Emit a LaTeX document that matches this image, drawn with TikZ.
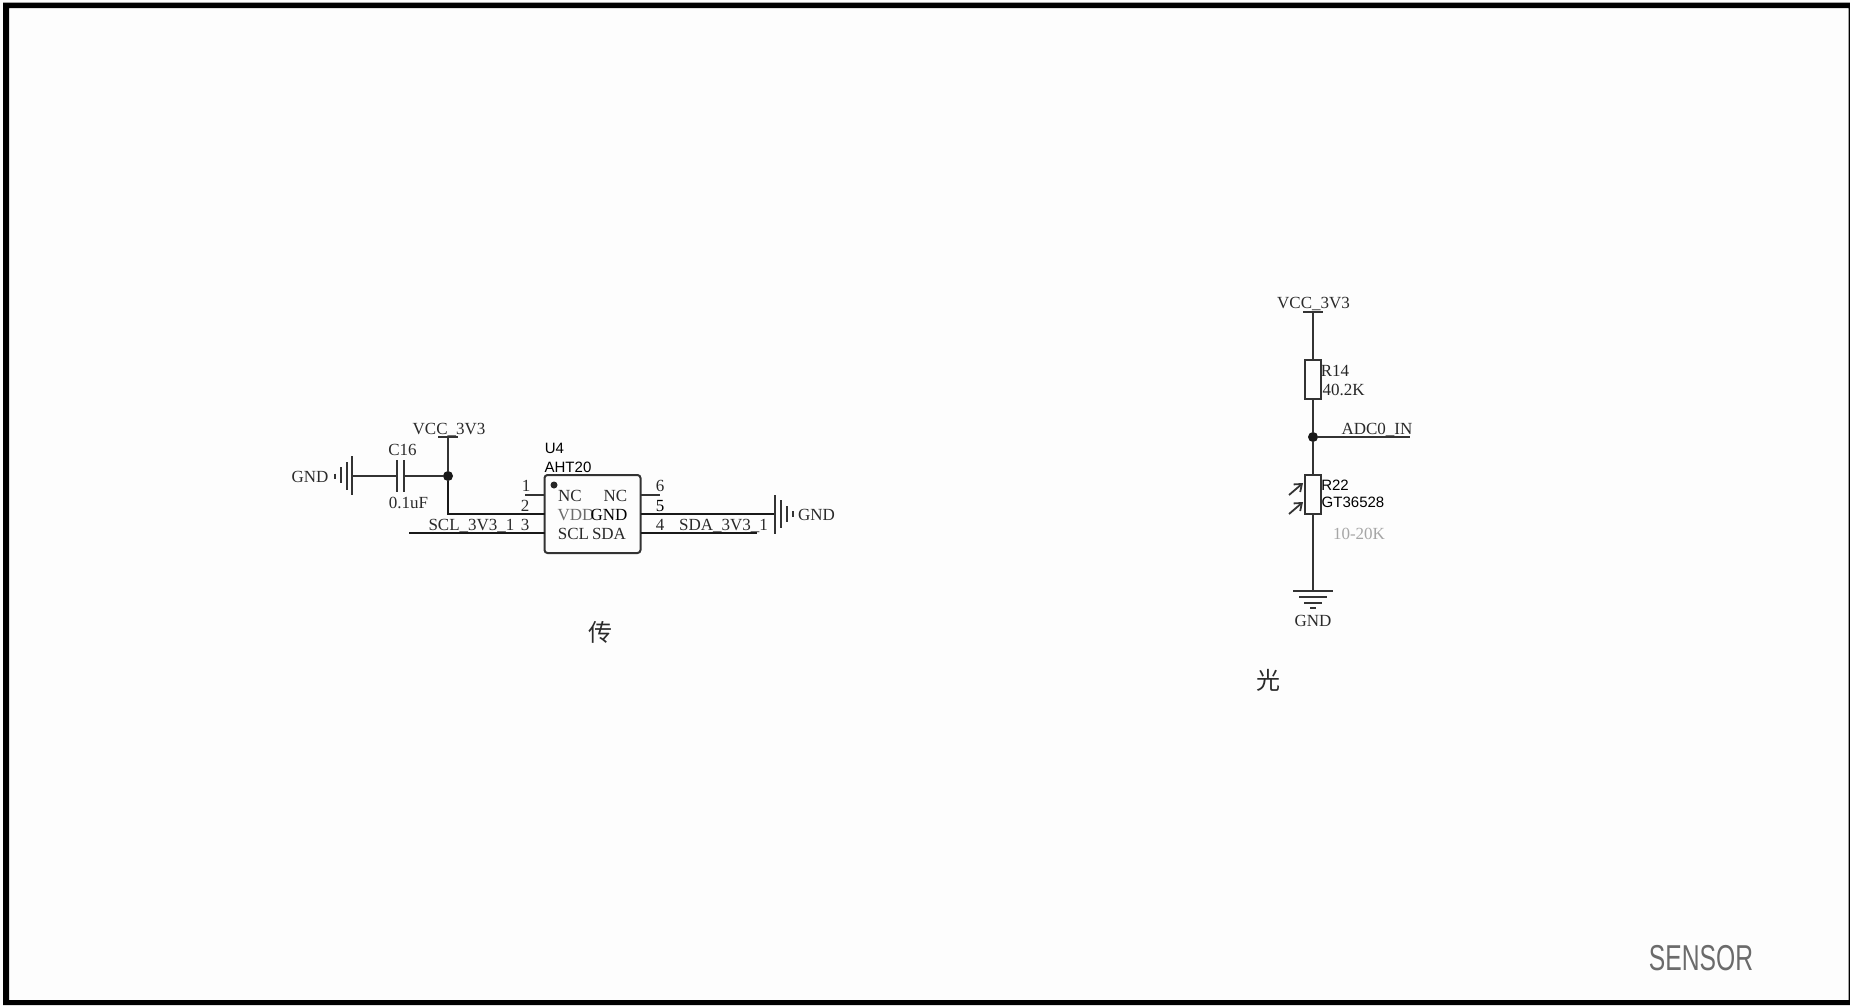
\documentclass[tikz,border=0pt]{standalone}
\usepackage{fontspec}
\setmainfont{Liberation Serif}
\setsansfont{Liberation Sans}
\newfontfamily\cjk{Noto Sans CJK SC}
\usetikzlibrary{arrows.meta}
\definecolor{pagebg}{HTML}{FDFDFD}
\definecolor{wiregray}{HTML}{333333}
\definecolor{txtgray}{HTML}{2A2A2A}
\tikzset{
  x=1pt,y=-1pt,
  lbl/.style={inner sep=0pt,outer sep=0pt,text height=11.5pt,text depth=0pt,text=txtgray,font=\fontsize{17}{20}\selectfont},
  lblsans/.style={lbl,text=black,font=\sffamily\fontsize{15}{18}\selectfont,text height=10.8pt},
  wire/.style={draw=wiregray,line width=2pt},
  heavy/.style={draw=black!90,line width=2pt},
  pinw/.style={draw=wiregray,line width=1.9pt},
  plate/.style={draw=wiregray,line width=2pt},
  junc/.style={circle,fill=black!90,inner sep=0pt,minimum size=10pt},
  resbox/.style={draw=wiregray,line width=2pt,fill=none,inner sep=0pt,minimum width=16pt,minimum height=39pt},
  icbox/.style={draw=wiregray,line width=2pt,rounded corners=3pt,inner sep=0pt,minimum width=96pt,minimum height=78pt},
  photo/.style={draw=wiregray,line width=1.8pt,-{Straight Barb[length=6.5pt,width=10pt]}},
  cjklabel/.style={inner sep=0pt,text=txtgray,font=\cjk\fontsize{24}{26}\selectfont}
}
\begin{document}
\begin{tikzpicture}
\useasboundingbox (0,0) rectangle (1850,1005);
\fill[pagebg] (0,0) rectangle (1850,1005);
\fill[black,even odd rule] (3,2.5) rectangle (1850,1005) (9,8) rectangle (1848.5,1000);

% ----- sensor U4
\node[icbox] (U4) at (592.5,514) {};
\node[lblsans,anchor=center] (U4ref) at (554.5,448) {U4};
\node[lblsans,anchor=center] (U4val) at (568,467) {AHT20};
\fill[black!85] (554,485) circle (3.5);
\node[lbl] (pnNC1) at (570,495.5) {NC};
\node[lbl,text=gray!85!black] (pnVDD) at (576,514.5) {VDD};
\node[lbl] (pnSCL) at (573.5,533.5) {SCL};
\node[lbl] (pnNC6) at (615.5,495.5) {NC};
\node[lbl,text=black] (pnGND) at (609,514.5) {GND};
\node[lbl] (pnSDA) at (609,533.5) {SDA};
\coordinate (p1) at (525,495);
\coordinate (p1i) at (544.5,495);
\coordinate (p2i) at (544.5,514);
\coordinate (p3i) at (544.5,533);
\coordinate (p6) at (660,495);
\coordinate (p6i) at (640.5,495);
\coordinate (p5i) at (640.5,514);
\coordinate (p4i) at (640.5,533);
\coordinate (sclend) at (409,533);
\coordinate (sdaend) at (757,533);
\node[lbl] (n1) at (526,486) {1};
\node[lbl] (n2) at (525,505.5) {2};
\node[lbl] (n3) at (525,525) {3};
\node[lbl] (n6) at (660,486) {6};
\node[lbl,text=black] (n5) at (660,505.5) {5};
\node[lbl] (n4) at (660,524.5) {4};
\node[lbl] (sclt) at (471.5,525) {SCL\_3V3\_1};
\node[lbl] (sdat) at (723.5,525) {SDA\_3V3\_1};
\draw[pinw] (p1) -- (p1i);
\draw[pinw] (p6i) -- (p6);
\draw[heavy] (sclend) -- (p3i);
\draw[heavy] (p4i) -- (sdaend);

% ----- C16 and supply
\node[junc] (j1) at (448,476) {};
\coordinate (vcc1) at (448,437);
\coordinate (vcc1a) at (438,437);
\coordinate (vcc1b) at (458,437);
\node[lbl] (vcc1t) at (449,428.5) {VCC\_3V3};
\draw[plate] (vcc1a) -- (vcc1b);
\draw[wire] (vcc1) -- (j1);
\draw[heavy] (j1) |- (p2i);
\coordinate (c1a) at (397,476);
\coordinate (c1b) at (404,476);
\draw[plate] (397,460) -- (397,492);
\draw[plate] (404,460) -- (404,492);
\draw[wire] (c1b) -- (j1);
\node[lbl] (c16) at (402.5,450) {C16};
\node[lbl] (c16v) at (408.5,503) {0.1uF};
\coordinate (g1) at (352,476);
\draw[wire] (g1) -- (c1a);
\draw[plate] (352,456) -- (352,495);
\draw[plate] (347,462) -- (347,490);
\draw[plate] (341,467) -- (341,483);
\draw[plate] (335,473.5) -- (335,479);
\node[lbl] (g1t) at (310,476.5) {GND};

% ----- right ground of U4
\coordinate (g2) at (775,514);
\draw[heavy] (p5i) -- (g2);
\draw[plate] (775,495) -- (775,534);
\draw[plate] (781,500) -- (781,528);
\draw[plate] (787,506) -- (787,522);
\draw[plate] (793,511) -- (793,517);
\node[lbl] (g2t) at (816.5,514.5) {GND};
\node[cjklabel] (chuan) at (600,632) {传};

% ----- light divider
\coordinate (vcc2) at (1313,312);
\coordinate (vcc2a) at (1303,312);
\coordinate (vcc2b) at (1323,312);
\node[lbl] (vcc2t) at (1313.5,303) {VCC\_3V3};
\draw[plate] (vcc2a) -- (vcc2b);
\node[resbox] (R14) at (1313,379.5) {};
\node[resbox] (R22) at (1313,494.5) {};
\node[junc] (j2) at (1313,437) {};
\coordinate (adc) at (1410,437);
\coordinate (gnd3) at (1313,591);
\draw[wire] (vcc2) -- (R14.north);
\draw[wire] (R14.south) -- (j2);
\draw[wire] (j2) -- (R22.north);
\draw[wire] (R22.south) -- (gnd3);
\draw[wire] (j2) -- (adc);
\node[lbl,text=black!85] (r14r) at (1335,371) {R14};
\node[lbl,text=black!85] (r14v) at (1343.5,390) {40.2K};
\node[lbl] (adct) at (1377,429) {ADC0\_IN};
\node[lblsans] (r22r) at (1335,485) {R22};
\node[lblsans] (r22v) at (1353,502) {GT36528};
\node[lbl,text=gray!70] (r22n) at (1359,533.5) {10-20K};
\coordinate (a1s) at (1289,495);
\coordinate (a1e) at (1303,483);
\coordinate (a2s) at (1289,514);
\coordinate (a2e) at (1303,502);
\draw[photo] (a1s) -- (a1e);
\draw[photo] (a2s) -- (a2e);
\draw[plate] (1293,591) -- (1333,591);
\draw[plate] (1299,597) -- (1327,597);
\draw[plate] (1304,602.5) -- (1322,602.5);
\draw[plate] (1310,608) -- (1316,608);
\node[lbl] (g3t) at (1313,620.5) {GND};
\node[cjklabel] (guang) at (1268,680) {光};

% ----- title
\node[inner sep=0pt,text=black!58,font=\sffamily\fontsize{36}{40}\selectfont,xscale=0.685,text height=25.5pt,text depth=0pt] (title) at (1701,958) {SENSOR};
\end{tikzpicture}
\end{document}
